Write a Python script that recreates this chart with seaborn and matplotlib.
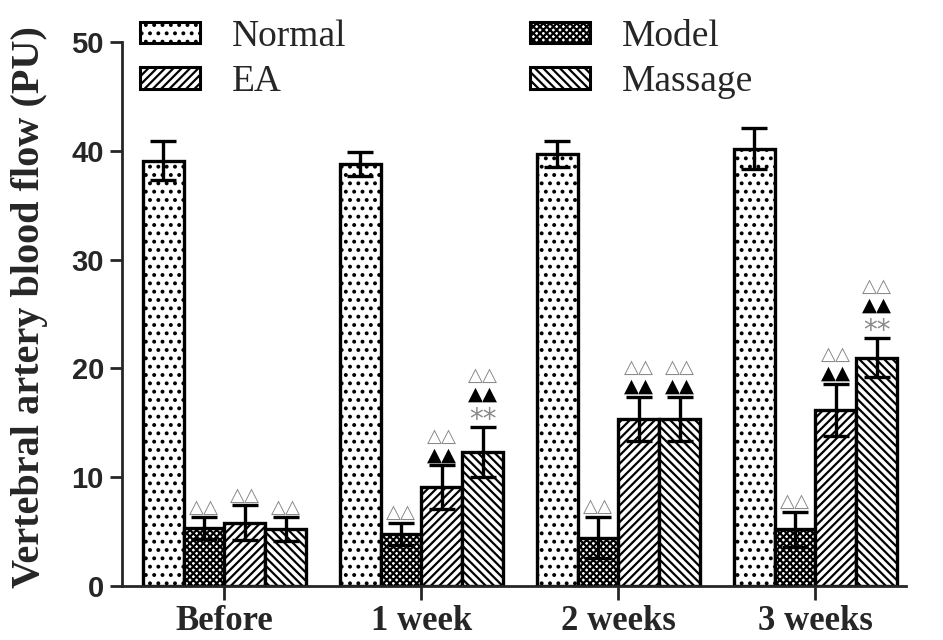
import matplotlib
matplotlib.use("Agg")
import matplotlib.pyplot as plt
from matplotlib.patches import Patch
import seaborn as sns
import pandas as pd

# Time points and treatment groups
timepoints = ["Before", "1 week", "2 weeks", "3 weeks"]
groups = ["Normal", "Model", "EA", "Massage"]

# Mean vertebral artery blood flow (PU) per group, in time-point order
normal_mean = [39.1, 38.8, 39.7, 40.2]
model_mean = [5.3, 4.8, 4.45, 5.2]
ea_mean = [5.8, 9.1, 15.35, 16.2]
massage_mean = [5.2, 12.3, 15.35, 21.0]

# Error (SD) per group
normal_err = [1.8, 1.1, 1.2, 1.9]
model_err = [1.0, 1.0, 1.9, 1.6]
ea_err = [1.6, 2.0, 2.05, 2.4]
massage_err = [1.1, 2.3, 2.05, 1.8]

# Significance marks above each bar (rows listed bottom to top)
model_marks = [["△△"], ["△△"], ["△△"], ["△△"]]
ea_marks = [["△△"], ["▲▲", "△△"], ["▲▲", "△△"], ["▲▲", "△△"]]
massage_marks = [["△△"], ["**", "▲▲", "△△"], ["▲▲", "△△"], ["**", "▲▲", "△△"]]
normal_marks = [[], [], [], []]

means = {"Normal": normal_mean, "Model": model_mean, "EA": ea_mean, "Massage": massage_mean}
errs = {"Normal": normal_err, "Model": model_err, "EA": ea_err, "Massage": massage_err}
marks = {"Normal": normal_marks, "Model": model_marks, "EA": ea_marks, "Massage": massage_marks}
hatches = {"Normal": "..", "Model": "xxxxx", "EA": "////", "Massage": "\\\\\\\\"}

rows = []
for g in groups:
    for t, v in zip(timepoints, means[g]):
        rows.append({"time": t, "group": g, "flow": v})
df = pd.DataFrame(rows)

sns.set_style("ticks")
plt.rcParams["hatch.linewidth"] = 1.6
plt.rcParams["hatch.color"] = "black"

fig = plt.figure(figsize=(9.43, 6.4), dpi=100)
ax = fig.add_axes([122 / 943, 54 / 640, 784 / 943, 544 / 640])

sns.barplot(data=df, x="time", y="flow", hue="group", order=timepoints,
            hue_order=groups, errorbar=None, width=0.83, gap=0,
            palette=["white"] * 4, edgecolor="black", linewidth=2.4,
            legend=False, ax=ax)

for g, cont in zip(groups, ax.containers):
    xs = []
    for bar in cont:
        bar.set_hatch(hatches[g])
        bar.set_facecolor("white")
        bar.set_edgecolor("black")
        xs.append(bar.get_x() + bar.get_width() / 2)
    ax.errorbar(xs, means[g], yerr=errs[g], fmt="none", ecolor="black",
                elinewidth=2.4, capsize=9.5, capthick=2.4, zorder=5)
    for x, m, e, mk in zip(xs, means[g], errs[g], marks[g]):
        off = 7.5
        for row in mk:
            if row == "**":
                color, fs = "#8a8a8a", 20
            elif row == "▲▲":
                color, fs = "black", 14
            else:
                color, fs = "#8a8a8a", 14
            ax.annotate(row, xy=(x, m + e), xytext=(0, off),
                        textcoords="offset points", ha="center",
                        va="center_baseline" if row == "**" else "center",
                        fontsize=fs, color=color, family="DejaVu Sans")
            off += 16 if row == "**" else 13.5

ax.set_ylim(0, 50)
ax.set_xlim(-0.52, 3.46)
ax.set_yticks([0, 10, 20, 30, 40, 50])
ax.set_xlabel("")
ax.set_ylabel("Vertebral artery blood flow (PU)", family="Liberation Serif",
              fontweight="bold", fontsize=29)
ax.yaxis.set_label_coords(-0.094, 0.513)
sns.despine(ax=ax)
for s in ["left", "bottom"]:
    ax.spines[s].set_linewidth(2)
ax.tick_params(axis="y", length=9, width=2, pad=4)
ax.tick_params(axis="x", length=10, width=2, pad=4)
for lab in ax.get_yticklabels():
    lab.set_family("Liberation Sans")
    lab.set_fontweight("bold")
    lab.set_fontsize(21)
for lab in ax.get_xticklabels():
    lab.set_family("Liberation Serif")
    lab.set_fontweight("bold")
    lab.set_fontsize(25)

handles = [Patch(facecolor="white", edgecolor="black", linewidth=2.2,
                 hatch=hatches[g], label=g) for g in ["Normal", "EA", "Model", "Massage"]]
leg = fig.legend(handles=handles, loc="upper left", ncol=2, frameon=False,
                 bbox_to_anchor=(140 / 943, 1 - 19 / 640), borderaxespad=0,
                 borderpad=0, handlelength=1.6, handleheight=0.5,
                 handletextpad=0.85, labelspacing=0.3, columnspacing=4.9,
                 prop={"family": "Liberation Serif", "size": 27})

fig.savefig("out.png", dpi=100)
